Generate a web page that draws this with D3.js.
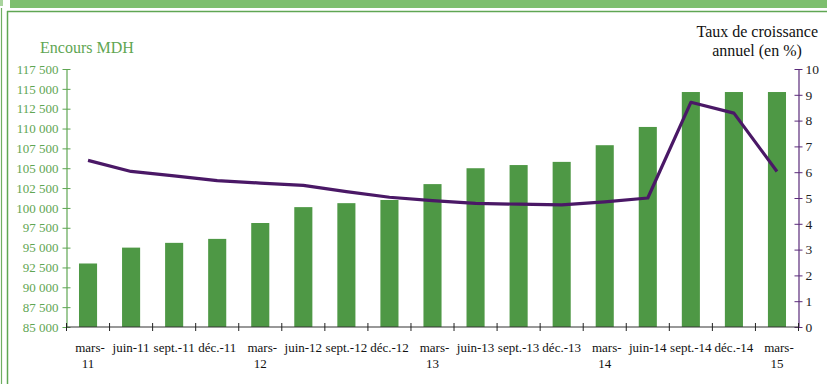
<!DOCTYPE html>
<html>
<head>
<meta charset="utf-8">
<script src="https://cdn.jsdelivr.net/npm/d3@7/dist/d3.min.js"></script>
<style>
  html, body { margin: 0; padding: 0; background: #fff; font-family: "Liberation Serif"; }
  svg { display: block; }
</style>
</head>
<body>
<svg id="chart" width="827" height="384" font-family="Liberation Serif"></svg>
<script>
// Quarterly periods
const periods = ["mars-11", "juin-11", "sept.-11", "déc.-11", "mars-12", "juin-12", "sept.-12", "déc.-12",
  "mars-13", "juin-13", "sept.-13", "déc.-13", "mars-14", "juin-14", "sept.-14", "déc.-14", "mars-15"];
// Outstanding amount (MDH)
const encours = [93000, 95000, 95600, 96100, 98100, 100100, 100600, 101000,
  103000, 105000, 105400, 105800, 107900, 110200, 114600, 114600, 114600];
// Annual growth rate (%)
const croissance = [6.46, 6.03, 5.86, 5.67, 5.58, 5.49, 5.25, 5.03,
  4.90, 4.79, 4.76, 4.73, 4.85, 5.0, 8.71, 8.29, 6.03];
const leftTicks = d3.range(85000, 117501, 2500);
const rightTicks = d3.range(0, 11, 1);

const FONT = "Liberation Serif";

const svg = d3.select("#chart");
const W = 827, H = 384;
const m = { left: 66.5, right: 798.5, top: 69, bottom: 327 };

// frame decoration
svg.append("rect").attr("x", 10).attr("y", 0).attr("width", W - 10).attr("height", 8).attr("fill", "#7dbf6e");
svg.append("rect").attr("x", 0).attr("y", 0).attr("width", 3).attr("height", 6).attr("fill", "#a9d49e");
svg.append("line").attr("x1", 1.5).attr("x2", 1.5).attr("y1", 8).attr("y2", H).attr("stroke", "#6fae62").attr("stroke-width", 1.2);
svg.append("line").attr("x1", 7.5).attr("x2", 7.5).attr("y1", 11).attr("y2", H).attr("stroke", "#5fa653").attr("stroke-width", 1.5);
svg.append("line").attr("x1", 7).attr("x2", W).attr("y1", 11.5).attr("y2", 11.5).attr("stroke", "#5fa653").attr("stroke-width", 1.5);

const x = d3.scaleBand().domain(periods).range([m.left, m.right]).paddingInner(0.58).paddingOuter(0.29);
const yL = d3.scaleLinear().domain([85000, 117500]).range([m.bottom, m.top]);
const yR = d3.scaleLinear().domain([0, 10]).range([m.bottom, m.top]);

const fmt = v => d3.format(",")(v).replace(/,/g, "\u00a0");

// bars
svg.append("g").selectAll("rect").data(periods).join("rect")
  .attr("x", d => x(d))
  .attr("width", x.bandwidth())
  .attr("y", (d, i) => yL(encours[i]))
  .attr("height", (d, i) => yL(85000) - yL(encours[i]))
  .attr("fill", "#4e9845");

// left axis
const gL = svg.append("g").attr("transform", `translate(${m.left},0)`)
  .call(d3.axisLeft(yL).tickValues(leftTicks).tickFormat(fmt).tickSize(8).tickSizeOuter(0));
gL.attr("font-family", FONT).attr("font-size", 13);
gL.select(".domain").attr("stroke", "#5fa653").attr("stroke-width", 1.2);
gL.selectAll(".tick line").attr("stroke", "#5fa653").attr("x2", 4).attr("x1", -4);
gL.selectAll(".tick text").attr("x", -8).attr("fill", "#5fa653");

// right axis
const gR = svg.append("g").attr("transform", `translate(${m.right},0)`)
  .call(d3.axisRight(yR).tickValues(rightTicks).tickSize(8).tickSizeOuter(0));
gR.attr("font-family", FONT).attr("font-size", 13.5);
gR.select(".domain").attr("stroke", "#5a2a7a").attr("stroke-width", 1.2);
gR.selectAll(".tick line").attr("stroke", "#5a2a7a").attr("x1", -4).attr("x2", 4);
gR.selectAll(".tick text").attr("x", 7).attr("fill", "#222");

// bottom axis
const gB = svg.append("g").attr("transform", `translate(0,${m.bottom})`)
  .attr("font-family", FONT).attr("font-size", 13);
gB.append("line").attr("x1", m.left).attr("x2", m.right).attr("stroke", "#333").attr("stroke-width", 1.2);
const bounds = d3.range(periods.length + 1).map(i => m.left + i * (m.right - m.left) / periods.length);
gB.selectAll("line.tk").data(bounds).join("line").attr("class", "tk")
  .attr("x1", d => d).attr("x2", d => d).attr("y1", -4).attr("y2", 4)
  .attr("stroke", "#222").attr("stroke-width", 1);
const lbl = gB.selectAll("text").data(periods).join("text")
  .attr("text-anchor", "middle")
  .attr("fill", "#111");
lbl.each(function (d) {
  const t = d3.select(this);
  const cx = x(d) + x.bandwidth() / 2;
  if (d.startsWith("mars")) {
    const yr = d.split("-")[1];
    t.append("tspan").attr("x", cx + 2).attr("y", 25).text("mars-");
    t.append("tspan").attr("x", cx).attr("y", 41).text(yr);
  } else {
    t.append("tspan").attr("x", cx).attr("y", 25).text(d);
  }
});

// growth line
const line = d3.line().x((d, i) => x(periods[i]) + x.bandwidth() / 2).y(d => yR(d));
svg.append("path").datum(croissance).attr("d", line)
  .attr("fill", "none").attr("stroke", "#4a1866").attr("stroke-width", 3.2)
  .attr("stroke-linejoin", "round");

// titles
const gT = svg.append("g").attr("font-family", FONT).attr("font-size", 16);
gT.append("text").attr("x", 40).attr("y", 53).attr("fill", "#5fa653").text("Encours MDH");
gT.append("text").attr("x", 818).attr("y", 37).attr("text-anchor", "end").attr("fill", "#111").text("Taux de croissance");
gT.append("text").attr("x", 757).attr("y", 56).attr("text-anchor", "middle").attr("fill", "#111").text("annuel (en %)");
</script>
</body>
</html>
